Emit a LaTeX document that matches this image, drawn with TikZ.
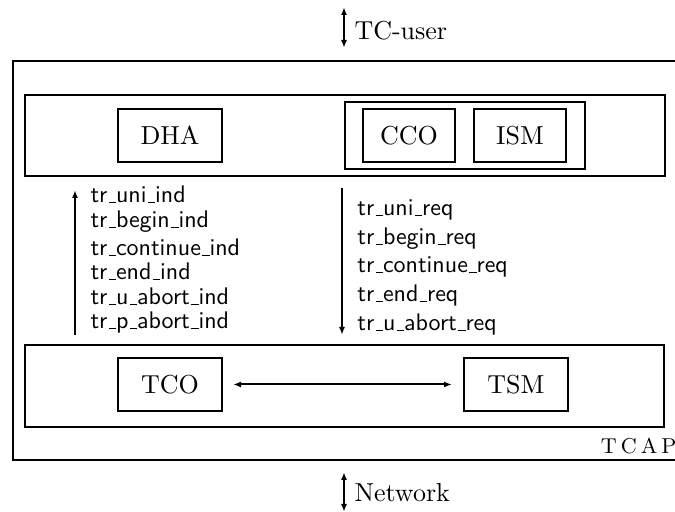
\documentclass[tikz,border=0pt]{standalone}
\usetikzlibrary{arrows.meta}
\newcommand\us{\leavevmode\kern.06em\vbox{\hrule width.3em}}
\begin{document}
\begin{tikzpicture}[x=0.4pt,y=-0.4pt,
  rm/.style={font=\fontsize{10.4}{12}\selectfont},
  frame/.style={draw,line width=0.8pt,inner sep=0pt,rectangle},
  unit/.style={frame,rm,minimum width=41.6pt,minimum height=21.2pt},
  small/.style={frame,rm,minimum width=36.8pt,minimum height=21.2pt},
  sig/.style={anchor=base west,inner sep=0pt,font=\fontsize{9.6}{11}\selectfont\sffamily},
  arr/.style={line width=0.8pt,-{Latex[length=3.2pt,width=2.4pt]}},
  darr/.style={line width=0.8pt,{Latex[length=3.2pt,width=2.4pt]}-{Latex[length=3.2pt,width=2.4pt]}}]
\clip (0,0) rectangle (675,512);
% outer TCAP frame
\draw[line width=0.8pt] (700,61) -- (13,61) -- (13,460) -- (700,460);
\node[anchor=base east,inner sep=0pt,font=\fontsize{8.6}{10}\selectfont] (tcap) at (677,454) {T\kern1.6pt C\kern1.6pt A\kern1.6pt P};
% upper layer
\node[frame,minimum width=256pt,minimum height=32.4pt] (upper) at (345,135.5) {};
\node[unit] (dha) at (170,135.5) {DHA};
\node[frame,minimum width=96pt,minimum height=26.8pt] (cont) at (465,135.5) {};
\node[small] (cco) at (409,135.5) {CCO};
\node[small] (ism) at (520,135.5) {ISM};
% lower layer
\node[frame,minimum width=255.6pt,minimum height=32.8pt] (lower) at (344.5,386) {};
\node[unit] (tco) at (170,384.5) {TCO};
\node[unit] (tsm) at (516,384.5) {TSM};
\draw[darr,shorten <=4pt,shorten >=4.4pt] (tco) -- (tsm);
% primitives up
\coordinate (ua) at (75,335);
\coordinate (ub) at (75,190);
\draw[arr] (ua) -- (ub);
\node[sig] (i1) at (90,203) {tr\us uni\us ind};
\node[sig] (i2) at (90,228) {tr\us begin\us ind};
\node[sig] (i3) at (90,256) {tr\us continue\us ind};
\node[sig] (i4) at (90,280) {tr\us end\us ind};
\node[sig] (i5) at (90,305) {tr\us u\us abort\us ind};
\node[sig] (i6) at (90,329) {tr\us p\us abort\us ind};
% primitives down
\coordinate (da) at (342,188);
\coordinate (db) at (342,335);
\draw[arr] (da) -- (db);
\node[sig] (r1) at (357,216) {tr\us uni\us req};
\node[sig] (r2) at (357,245) {tr\us begin\us req};
\node[sig] (r3) at (357,273) {tr\us continue\us req};
\node[sig] (r4) at (357,302) {tr\us end\us req};
\node[sig] (r5) at (357,331) {tr\us u\us abort\us req};
% TC-user and Network
\coordinate (ta) at (344,7);
\coordinate (tb) at (344,48);
\draw[darr] (ta) -- (tb);
\node[rm,anchor=west,inner sep=0pt] (tcuser) at (354,31) {TC-user};
\coordinate (na) at (344,472);
\coordinate (nb) at (344,512);
\draw[darr] (na) -- (nb);
\node[rm,anchor=west,inner sep=0pt] (net) at (354,493) {Network};
\end{tikzpicture}
\end{document}
